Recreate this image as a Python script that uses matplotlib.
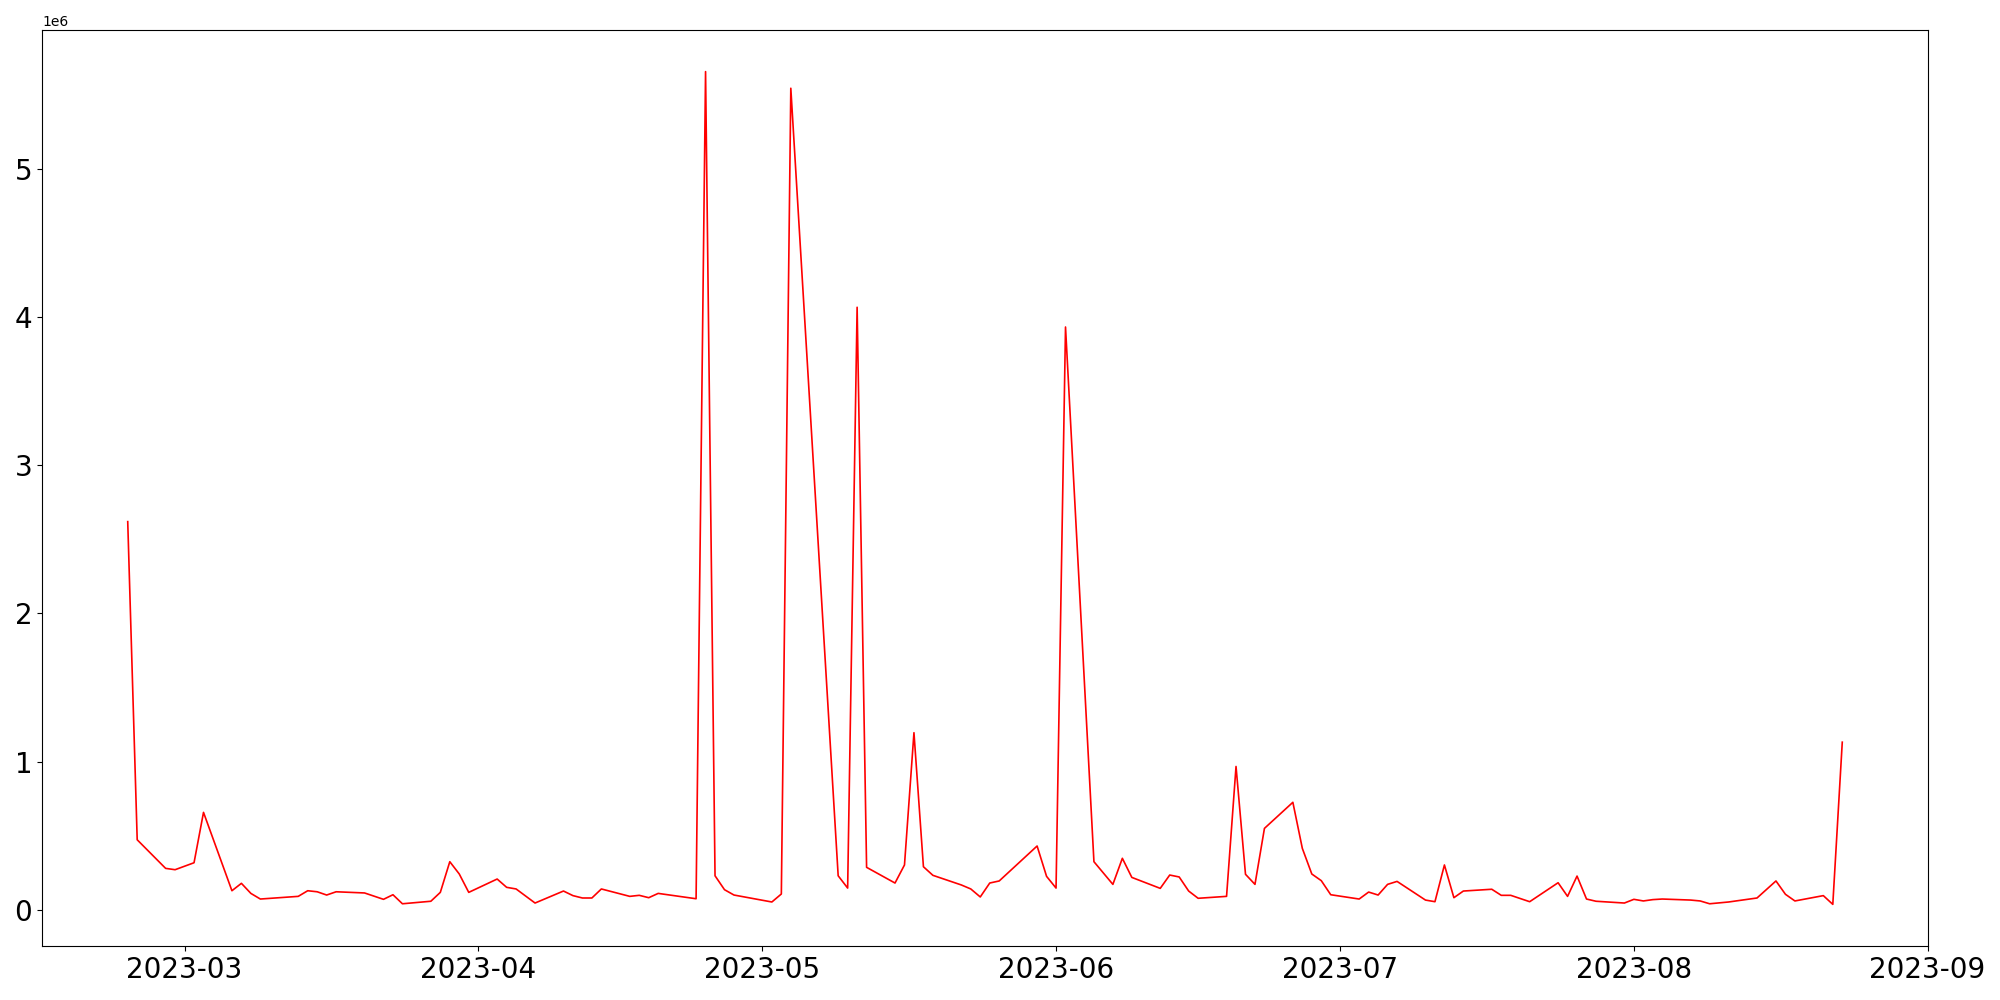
import matplotlib
matplotlib.use("Agg")
import matplotlib.pyplot as plt
import pandas as pd

dates = [
    "2023-02-23", "2023-02-24", "2023-02-27", "2023-02-28", "2023-03-02", "2023-03-03",
    "2023-03-06", "2023-03-07", "2023-03-08", "2023-03-09", "2023-03-13", "2023-03-14",
    "2023-03-15", "2023-03-16", "2023-03-17", "2023-03-20", "2023-03-22", "2023-03-23",
    "2023-03-24", "2023-03-27", "2023-03-28", "2023-03-29", "2023-03-30", "2023-03-31",
    "2023-04-03", "2023-04-04", "2023-04-05", "2023-04-07", "2023-04-10", "2023-04-11",
    "2023-04-12", "2023-04-13", "2023-04-14", "2023-04-17", "2023-04-18", "2023-04-19",
    "2023-04-20", "2023-04-24", "2023-04-25", "2023-04-26", "2023-04-27", "2023-04-28",
    "2023-05-02", "2023-05-03", "2023-05-04", "2023-05-09", "2023-05-10", "2023-05-11",
    "2023-05-12", "2023-05-15", "2023-05-16", "2023-05-17", "2023-05-18", "2023-05-19",
    "2023-05-22", "2023-05-23", "2023-05-24", "2023-05-25", "2023-05-26", "2023-05-30",
    "2023-05-31", "2023-06-01", "2023-06-02", "2023-06-05", "2023-06-07", "2023-06-08",
    "2023-06-09", "2023-06-12", "2023-06-13", "2023-06-14", "2023-06-15", "2023-06-16",
    "2023-06-19", "2023-06-20", "2023-06-21", "2023-06-22", "2023-06-23", "2023-06-26",
    "2023-06-27", "2023-06-28", "2023-06-29", "2023-06-30", "2023-07-03", "2023-07-04",
    "2023-07-05", "2023-07-06", "2023-07-07", "2023-07-10", "2023-07-11", "2023-07-12",
    "2023-07-13", "2023-07-14", "2023-07-17", "2023-07-18", "2023-07-19", "2023-07-21",
    "2023-07-24", "2023-07-25", "2023-07-26", "2023-07-27", "2023-07-28", "2023-07-31",
    "2023-08-01", "2023-08-02", "2023-08-03", "2023-08-04", "2023-08-07", "2023-08-08",
    "2023-08-09", "2023-08-11", "2023-08-14", "2023-08-16", "2023-08-17", "2023-08-18",
    "2023-08-21", "2023-08-22", "2023-08-23",
]

volume = [
    2620000, 472000, 279000, 270000, 317000, 657000,
    128000, 178000, 110000, 72000, 90000, 128000,
    121000, 99000, 121000, 113000, 70000, 101000,
    40000, 57000, 117000, 324000, 241000, 117000,
    207000, 151000, 140000, 45000, 126000, 95000,
    79000, 79000, 140000, 90000, 97000, 81000,
    110000, 74000, 5658000, 229000, 135000, 99000,
    52000, 106000, 5546000, 229000, 146000, 4067000,
    286000, 180000, 302000, 1195000, 290000, 232000,
    167000, 140000, 86000, 180000, 194000, 430000,
    225000, 146000, 3934000, 324000, 171000, 347000,
    218000, 144000, 234000, 221000, 126000, 77000,
    90000, 967000, 239000, 171000, 549000, 725000,
    414000, 241000, 196000, 101000, 72000, 119000,
    99000, 171000, 191000, 65000, 54000, 302000,
    81000, 126000, 138000, 97000, 97000, 54000,
    182000, 90000, 227000, 72000, 57000, 45000,
    70000, 59000, 68000, 72000, 65000, 59000,
    40000, 52000, 79000, 194000, 104000, 59000,
    95000, 36000, 1131000,
]

x = pd.to_datetime(dates)

fig = plt.figure(figsize=(20, 10), dpi=100)
ax = fig.add_axes([0.021, 0.054, 0.943, 0.916])
ax.plot(x, volume, color="red", linewidth=1.2)
ax.tick_params(axis="both", labelsize=20)

fig.savefig("out.png", dpi=100)
